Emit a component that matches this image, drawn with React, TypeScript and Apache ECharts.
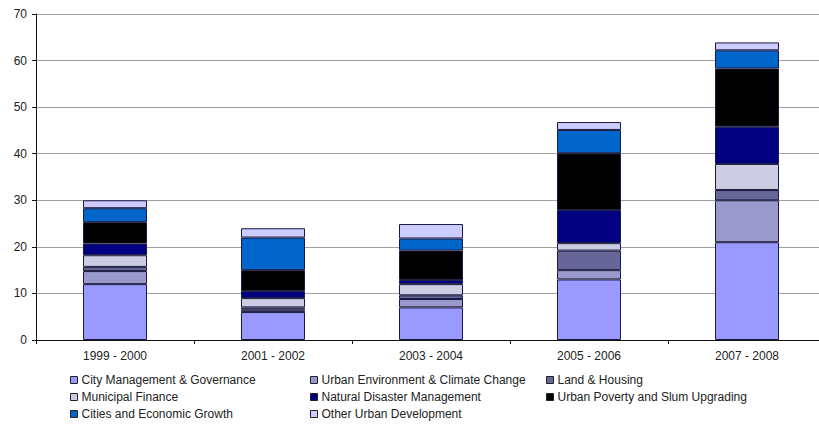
import React, { useEffect, useRef } from "react";
import * as echarts from "echarts";

const categories = ["1999 - 2000", "2001 - 2002", "2003 - 2004", "2005 - 2006", "2007 - 2008"];
const seriesNames = [
  "City Management & Governance",
  "Urban Environment & Climate Change",
  "Land & Housing",
  "Municipal Finance",
  "Natural Disaster Management",
  "Urban Poverty and Slum Upgrading",
  "Cities and Economic Growth",
  "Other Urban Development",
];
const cityManagement = [12, 6, 7, 13, 21];
const urbanEnvironment = [2.8, 0.5, 1.8, 2, 9];
const landHousing = [0.9, 0.5, 0.8, 4.2, 2.2];
const municipalFinance = [2.5, 2, 2.4, 1.6, 5.6];
const naturalDisaster = [2.5, 1.5, 0.9, 7.1, 8];
const urbanPoverty = [4.6, 4.5, 6.3, 12.2, 12.5];
const citiesGrowth = [3, 7, 2.6, 5, 3.9];
const otherUrban = [1.7, 2, 3.1, 1.7, 1.7];
const yTicks = [0, 10, 20, 30, 40, 50, 60, 70];

const seriesValues = [
  cityManagement,
  urbanEnvironment,
  landHousing,
  municipalFinance,
  naturalDisaster,
  urbanPoverty,
  citiesGrowth,
  otherUrban,
];
const colors = ["#9999FF", "#9999CC", "#666699", "#CCCCE2", "#000080", "#000000", "#0066CC", "#CCCCFF"];

const legendPos = [
  [70, 374], [310, 374], [546, 374],
  [70, 391], [310, 391], [546, 391],
  [70, 408], [310, 408],
];

export default function App() {
  const ref = useRef<HTMLDivElement>(null);
  useEffect(() => {
    if (!ref.current) return;
    const chart = echarts.init(ref.current, null, { renderer: "svg" });
    const font = "'Liberation Sans', Arial, sans-serif";
    chart.setOption({
      animation: false,
      backgroundColor: "#ffffff",
      textStyle: { fontFamily: font },
      grid: { left: 36, top: 14, width: 790, height: 326, outerBoundsMode: "none", containLabel: false },
      xAxis: {
        type: "category",
        data: categories,
        axisLine: { lineStyle: { color: "#111", width: 1 } },
        axisTick: { show: true, alignWithLabel: false, length: 4, lineStyle: { color: "#111" } },
        axisLabel: { color: "#222", fontSize: 12, margin: 10, fontFamily: font },
      },
      yAxis: {
        type: "value",
        min: yTicks[0],
        max: yTicks[yTicks.length - 1],
        interval: 10,
        axisLine: { show: true, lineStyle: { color: "#111", width: 1 } },
        axisTick: { show: true, inside: false, length: 4, lineStyle: { color: "#111" } },
        axisLabel: { color: "#222", fontSize: 12, margin: 9, fontFamily: font },
        splitLine: { lineStyle: { color: "#a0a0a0", width: 1 } },
      },
      legend: seriesNames.map((n, i) => ({
        data: [n],
        left: legendPos[i][0],
        top: legendPos[i][1],
        orient: "horizontal",
        itemWidth: 7,
        itemHeight: 7,
        itemGap: 5,
        padding: 0,
        icon: "rect",
        selectedMode: false,
        itemStyle: { borderColor: "#222", borderWidth: 1 },
        textStyle: { color: "#222", fontSize: 12, fontFamily: font, padding: [0, 0, 0, -1] },
      })),
      series: seriesNames.map((n, i) => ({
        name: n,
        type: "bar",
        stack: "total",
        barWidth: 64,
        data: seriesValues[i],
        itemStyle: { color: colors[i], borderColor: "#1a1a40", borderWidth: 1 },
      })),
    });
    return () => chart.dispose();
  }, []);
  return <div ref={ref} style={{ width: 819, height: 426, position: "absolute", left: 0, top: 0 }} />;
}
